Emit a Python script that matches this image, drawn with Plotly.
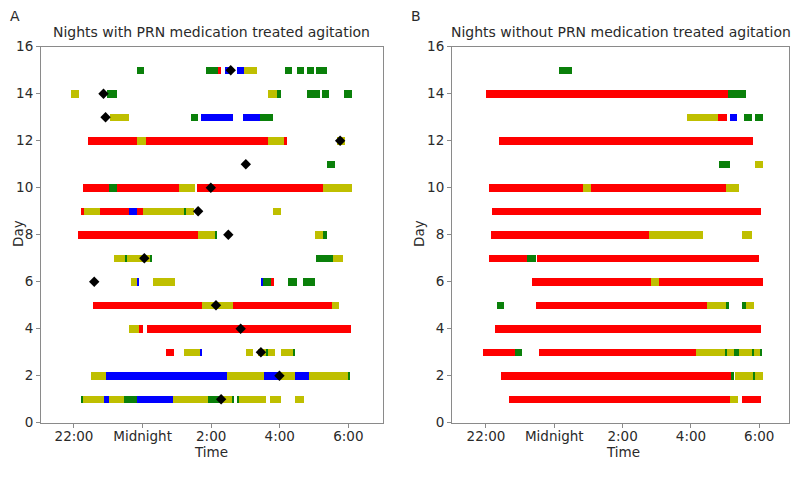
import plotly.graph_objects as go

# segments are (day, start, end); time in hours, midnight = 24
A_RED = [
    (15, 26.20, 26.28),
    (12, 22.42, 23.83), (12, 24.10, 27.67), (12, 28.13, 28.20),
    (10, 22.25, 23.03), (10, 23.26, 25.07), (10, 25.60, 29.27),
    (9, 22.19, 22.29), (9, 22.76, 23.61), (9, 23.83, 24.02),
    (8, 22.11, 25.61),
    (6, 27.73, 27.84),
    (5, 22.56, 25.72), (5, 26.63, 29.51),
    (4, 23.90, 24.00), (4, 24.14, 30.07),
    (3, 24.68, 24.92),
]
A_YELLOW = [
    (15, 26.96, 27.33),
    (14, 21.91, 22.15), (14, 27.67, 27.91),
    (13, 23.05, 23.61),
    (12, 23.83, 24.10), (12, 27.67, 28.13), (12, 29.67, 29.90),
    (10, 25.07, 25.53), (10, 29.27, 30.10),
    (9, 22.29, 22.76), (9, 24.02, 25.50), (9, 27.81, 28.04),
    (8, 25.61, 26.16), (8, 29.03, 29.27),
    (7, 23.18, 23.49), (7, 23.55, 24.27), (7, 29.56, 29.85),
    (6, 23.65, 23.85), (6, 24.31, 24.94),
    (5, 25.72, 26.63), (5, 29.51, 29.73),
    (4, 23.60, 23.90),
    (3, 25.21, 25.72), (3, 27.01, 27.23), (3, 27.37, 27.86), (3, 28.03, 28.44),
    (2, 22.51, 22.93), (2, 26.47, 27.54), (2, 27.99, 28.44), (2, 28.86, 30.03),
    (1, 22.27, 22.87), (1, 23.03, 23.46), (1, 24.90, 25.92), (1, 26.31, 26.64),
    (1, 26.82, 27.60), (1, 27.71, 28.03), (1, 28.44, 28.71),
]
A_GREEN = [
    (15, 23.83, 24.04), (15, 25.84, 26.20), (15, 28.15, 28.36), (15, 28.49, 28.70),
    (15, 28.78, 29.00), (15, 29.06, 29.37),
    (14, 22.95, 23.24), (14, 27.91, 28.03), (14, 28.78, 29.17), (14, 29.22, 29.44),
    (14, 29.87, 30.10),
    (13, 25.41, 25.62), (13, 27.42, 27.81),
    (11, 29.39, 29.62),
    (10, 23.03, 23.26),
    (9, 25.21, 25.28),
    (8, 26.13, 26.17), (8, 29.27, 29.37),
    (7, 23.49, 23.55), (7, 24.22, 24.27), (7, 29.07, 29.56),
    (6, 27.52, 27.73), (6, 28.23, 28.49), (6, 28.67, 29.03),
    (3, 27.62, 27.66), (3, 28.40, 28.44),
    (2, 29.99, 30.03),
    (1, 22.22, 22.27), (1, 23.46, 23.85), (1, 25.92, 26.31), (1, 26.62, 26.66),
    (1, 26.78, 26.82),
]
A_BLUE = [
    (15, 26.40, 26.60), (15, 26.74, 26.96),
    (13, 25.69, 26.64), (13, 26.94, 27.42),
    (9, 23.61, 23.83),
    (6, 23.85, 23.90), (6, 27.48, 27.52),
    (3, 25.70, 25.74),
    (2, 22.93, 26.47), (2, 27.54, 27.99), (2, 28.44, 28.86),
    (1, 22.87, 23.03), (1, 23.85, 24.90),
]
A_DOSE_DAY = [15, 14, 13, 12, 11, 10, 9, 8, 7, 6, 5, 4, 3, 2, 1]
A_DOSE_TIME = [26.57, 22.86, 22.92, 29.76, 27.01, 25.99, 25.62, 26.50,
               24.05, 22.59, 26.14, 26.86, 27.45, 27.99, 26.29]

B_RED = [
    (14, 22.00, 29.09),
    (13, 28.80, 29.05),
    (12, 22.38, 29.82),
    (10, 22.10, 24.83), (10, 25.06, 29.03),
    (9, 22.18, 30.04),
    (8, 22.15, 26.77),
    (7, 22.09, 23.19), (7, 23.50, 29.99),
    (6, 23.34, 26.83), (6, 27.06, 30.10),
    (5, 23.46, 28.46),
    (4, 22.26, 30.04),
    (3, 21.90, 22.85), (3, 23.55, 28.15),
    (2, 22.43, 29.17),
    (1, 22.68, 29.14), (1, 29.50, 30.04),
]
B_YELLOW = [
    (13, 27.89, 28.80),
    (11, 29.87, 30.12),
    (10, 24.83, 25.06), (10, 29.03, 29.41),
    (8, 26.77, 28.34), (8, 29.50, 29.78),
    (6, 26.83, 27.06),
    (5, 28.46, 29.03), (5, 29.60, 29.85),
    (3, 28.15, 30.07),
    (2, 29.29, 30.10),
    (1, 29.14, 29.37),
]
B_GREEN = [
    (15, 24.15, 24.53),
    (14, 29.09, 29.61),
    (13, 29.55, 29.78), (13, 29.87, 30.10),
    (11, 28.82, 29.14),
    (7, 23.19, 23.45),
    (5, 22.31, 22.54), (5, 29.03, 29.12), (5, 29.50, 29.60),
    (3, 22.85, 23.05), (3, 29.01, 29.05), (3, 29.27, 29.41), (3, 29.79, 29.83),
    (3, 30.03, 30.07),
    (2, 29.17, 29.27), (2, 29.83, 29.87),
]
B_BLUE = [
    (13, 29.14, 29.34),
]

TICK_VALS = [22, 24, 26, 28, 30]
TICK_TEXT = ['22:00', 'Midnight', '2:00', '4:00', '6:00']
TITLE_A = 'Nights with PRN medication treated agitation'
TITLE_B = 'Nights without PRN medication treated agitation'

COLORS = {'red': '#ff0000', 'yellow': '#bfbf00', 'green': '#0a800a', 'blue': '#0000ff'}
FONT = 'DejaVu Sans, Arial, sans-serif'
TEXT = '#2a2a2a'
FRAME = '#8a8a8a'

# the page body keeps an 8 px margin, so the figure is drawn inside it
PAD = 8
W, H = 800 - 2 * PAD, 478 - 2 * PAD


def px_x(x):
    return (x - PAD) / W


def px_y(y):
    return 1 - (y - PAD) / H


def add_segments(fig, segments, color, xaxis, yaxis):
    if not segments:
        return
    fig.add_trace(
        go.Bar(
            orientation = 'h',
            y = [s[0] for s in segments],
            base = [s[1] for s in segments],
            x = [s[2] - s[1] for s in segments],
            width = 0.32,
            marker = dict(color = COLORS[color], line = dict(width = 0)),
            xaxis = xaxis,
            yaxis = yaxis,
            showlegend = False,
            hoverinfo = 'skip'
        )
    )


fig = go.Figure()

for segs, col in [(A_RED, 'red'), (A_YELLOW, 'yellow'), (A_GREEN, 'green'), (A_BLUE, 'blue')]:
    add_segments(fig, segs, col, 'x', 'y')

for segs, col in [(B_RED, 'red'), (B_YELLOW, 'yellow'), (B_GREEN, 'green'), (B_BLUE, 'blue')]:
    add_segments(fig, segs, col, 'x2', 'y2')

fig.add_trace(
    go.Scatter(
        x = A_DOSE_TIME,
        y = A_DOSE_DAY,
        mode = 'markers',
        marker = dict(symbol = 'diamond', size = 8, color = 'black', line = dict(width = 0)),
        xaxis = 'x',
        yaxis = 'y',
        showlegend = False
    )
)

y_dom = [px_y(422.7), px_y(46.7)]

xaxis_style = dict(
    tickvals = TICK_VALS,
    ticktext = TICK_TEXT,
    showgrid = False,
    zeroline = False,
    showline = True,
    mirror = True,
    linecolor = FRAME,
    linewidth = 1,
    ticks = 'outside',
    ticklen = 4,
    tickcolor = FRAME,
    ticklabelstandoff = -3,
    automargin = False,
    tickfont = dict(family = FONT, size = 13.5, color = TEXT)
)
yaxis_style = dict(
    range = [0, 16],
    tickvals = list(range(0, 17, 2)),
    showgrid = False,
    zeroline = False,
    showline = True,
    mirror = True,
    linecolor = FRAME,
    linewidth = 1,
    ticks = 'outside',
    ticklen = 4,
    tickcolor = FRAME,
    automargin = False,
    tickfont = dict(family = FONT, size = 13.5, color = TEXT),
    domain = y_dom
)

fig.update_layout(
    width = W,
    height = H,
    margin = dict(l = 0, r = 0, t = 0, b = 0, pad = 0),
    paper_bgcolor = 'white',
    plot_bgcolor = 'white',
    barmode = 'overlay',
    bargap = 0,
    xaxis = dict(xaxis_style, range = [21.038, 31.01], domain = [px_x(41), px_x(383)], anchor = 'y'),
    yaxis = dict(yaxis_style, anchor = 'x'),
    xaxis2 = dict(xaxis_style, range = [21.005, 30.87], domain = [px_x(452), px_x(789)], anchor = 'y2'),
    yaxis2 = dict(yaxis_style, anchor = 'x2'),
)

# (x, y, text, angle, size, xanchor)
annotations = [
    (PAD, 16, 'A', 0, 14, 'left'),
    (409, 16, 'B', 0, 14, 'left'),
    (211, 32, TITLE_A, 0, 14, 'center'),
    (621, 32, TITLE_B, 0, 14, 'center'),
    (211, 452, 'Time', 0, 13.5, 'center'),
    (623, 452, 'Time', 0, 13.5, 'center'),
    (PAD, 234, 'Day', -90, 13.5, 'left'),
    (419, 234, 'Day', -90, 13.5, 'center'),
]
for ax, ay, text, angle, size, anchor in annotations:
    fig.add_annotation(
        x = px_x(ax),
        y = px_y(ay),
        xref = 'paper',
        yref = 'paper',
        text = text,
        showarrow = False,
        textangle = angle,
        xanchor = anchor,
        yanchor = 'middle',
        font = dict(family = FONT, size = size, color = TEXT)
    )

fig.write_html('out.html')
